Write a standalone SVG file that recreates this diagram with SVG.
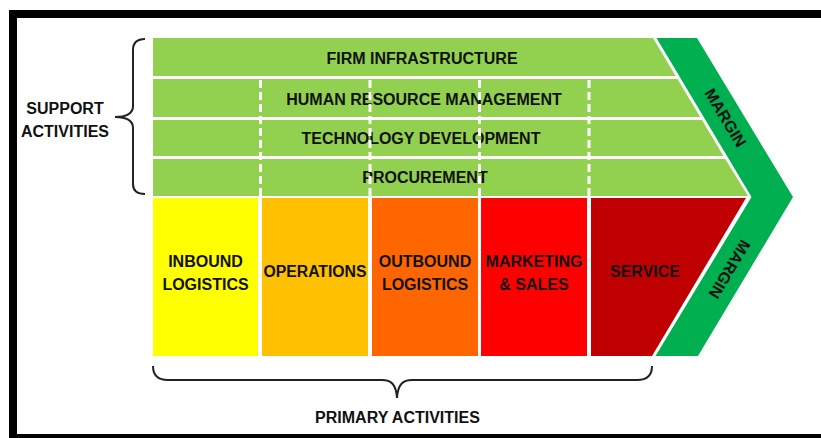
<svg xmlns="http://www.w3.org/2000/svg" width="821" height="438" viewBox="0 0 821 438">
<style>
.t{font-family:"Liberation Sans",Arial,sans-serif;font-weight:bold;font-size:16px;fill:#111;text-anchor:middle}
.sup{fill:#92D050}
.br{fill:none;stroke:#222;stroke-width:2}
.dash{stroke:#fff;stroke-width:3;stroke-dasharray:8 4;fill:none}
</style>
<rect x="0" y="0" width="821" height="438" fill="#fff"/>
<rect x="13" y="14" width="900" height="424" fill="none" stroke="#000" stroke-width="8"/>
<g id="margin">
<polygon points="656.5,38 697,38 793,197 698,356 655.5,356 751.5,197" fill="#00B050"/>
<text class="t" font-size="15" transform="translate(725,118) rotate(59)" dy="5">MARGIN</text>
<text class="t" font-size="15" transform="translate(729,269) rotate(121)" dy="5">MARGIN</text>
</g>
<g id="firm-infrastructure">
<polygon class="sup" points="153,38 653,38 675.7,76 153,76"/>
<text class="t" x="422" y="64">FIRM INFRASTRUCTURE</text>
</g>
<g id="hrm">
<polygon class="sup" points="153,79 677.5,79 700.2,117 153,117"/>
<text class="t" x="424" y="105">HUMAN RESOURCE MANAGEMENT</text>
</g>
<g id="technology-development">
<polygon class="sup" points="153,120 702,120 723.5,156 153,156"/>
<text class="t" x="421" y="144">TECHNOLOGY DEVELOPMENT</text>
</g>
<g id="procurement">
<polygon class="sup" points="153,159 725.3,159 748,196 153,196"/>
<text class="t" x="425" y="183">PROCUREMENT</text>
</g>
<g id="inbound-logistics">
<rect x="153" y="198" width="105" height="158" fill="#FFFF00"/>
<text class="t" x="205.5" y="267">INBOUND</text>
<text class="t" x="205.5" y="290">LOGISTICS</text>
</g>
<g id="operations">
<rect x="262" y="198" width="106" height="158" fill="#FFC000"/>
<text class="t" x="315" y="277" textLength="103" lengthAdjust="spacingAndGlyphs">OPERATIONS</text>
</g>
<g id="outbound-logistics">
<rect x="372" y="198" width="106" height="158" fill="#FF6600"/>
<text class="t" x="425" y="267">OUTBOUND</text>
<text class="t" x="425" y="290">LOGISTICS</text>
</g>
<g id="marketing-sales">
<rect x="481" y="198" width="106" height="158" fill="#FF0000"/>
<text class="t" x="534" y="267">MARKETING</text>
<text class="t" x="534" y="290">&amp; SALES</text>
</g>
<g id="service">
<polygon points="591,198 746,198 652,356 591,356" fill="#C00000"/>
<text class="t" x="645" y="277">SERVICE</text>
</g>
<g id="connectors">
<line class="dash" x1="260.5" y1="80" x2="260.5" y2="198"/>
<line class="dash" x1="370" y1="80" x2="370" y2="198"/>
<line class="dash" x1="479.5" y1="80" x2="479.5" y2="198"/>
<line class="dash" x1="589" y1="80" x2="589" y2="198"/>
</g>
<g id="support-activities">
<path class="br" d="M145,39 C137,39 133,42 133,50 L133,106 C133,113 128,117 115,117 C128,117 133,121 133,128 L133,184 C133,191 137,194 145,194"/>
<text class="t" x="65" y="114">SUPPORT</text>
<text class="t" x="65" y="137">ACTIVITIES</text>
</g>
<g id="primary-activities">
<path class="br" d="M153,366 C153,375 158,380 168,380 L382,380 C391,380 396,384 397,398 C398,384 403,380 412,380 L637,380 C647,380 652,375 652,366"/>
<text class="t" x="397.5" y="423">PRIMARY ACTIVITIES</text>
</g>
</svg>
